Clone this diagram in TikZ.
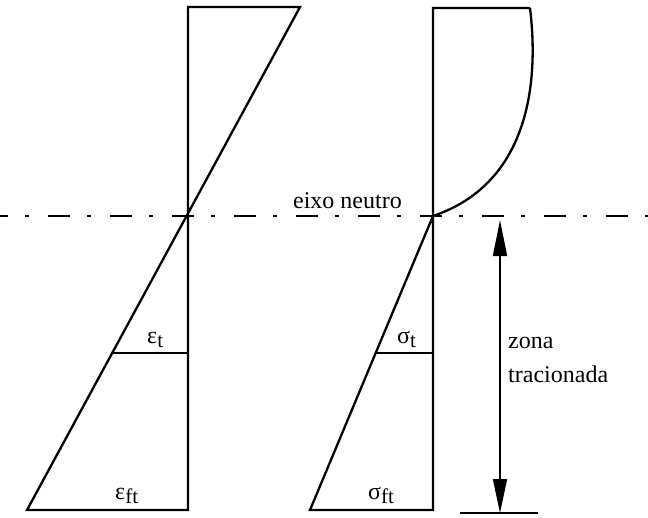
\documentclass[tikz,border=0pt]{standalone}
\usepackage{fontspec}
\setmainfont{Liberation Serif}
\usepackage{tikz}
\usetikzlibrary{arrows.meta,positioning}
\newcommand{\lowidx}[1]{\raisebox{-4pt}{\fontsize{21}{21}\selectfont #1}}

\begin{document}
\begin{tikzpicture}[
    x=1pt, y=-1pt,
    every node/.style={font=\fontsize{24}{28}\selectfont, inner sep=0pt},
    profile/.style={line width=2.3pt, line join=miter},
    level/.style={line width=1.6pt},
    neutral/.style={line width=2pt, dash pattern=on 22pt off 17pt on 4pt off 19pt, dash phase=14pt},
    zone/.style={line width=1.6pt,
                 {Triangle[length=36pt, width=14pt]}-{Triangle[length=34pt, width=14pt]}},
]
    \useasboundingbox (0,0) rectangle (648,517);

    \coordinate (eTop) at (188,7);
    \coordinate (eTopR) at (300,7);
    \coordinate (eBot) at (188,510);
    \coordinate (eBotL) at (27,510);
    \coordinate (eMid) at (188,353);
    \coordinate (eMidL) at (113,353);
    \draw[profile] (eBot) -- (eTop) -- (eTopR) -- (eBotL) -- cycle;
    \draw[level] (eMidL) -- (eMid);

    \coordinate (sTop) at (433,8);
    \coordinate (sTopR) at (530,8);
    \coordinate (sNA) at (433,216);
    \coordinate (sBot) at (433,510);
    \coordinate (sBotL) at (310,510);
    \coordinate (sMid) at (433,353);
    \coordinate (sMidL) at (376,353);
    \draw[profile] (sTopR) -- (sTop) -- (sBot) -- (sBotL) -- (sNA)
        .. controls (525,185) and (540,90) .. (sTopR);
    \draw[level] (sMidL) -- (sMid);

    \coordinate (naL) at (0,216);
    \coordinate (naR) at (648,216);
    \draw[neutral] (naL) -- (naR);
    \node[anchor=base east] (naLabel) at (402,208) {eixo neutro};

    \coordinate (zTop) at (500,220);
    \coordinate (zBot) at (500,513);
    \coordinate (tickL) at (460,513);
    \coordinate (tickR) at (538,513);
    \draw[zone] (zTop) -- (zBot);
    \draw[level] (tickL) -- (tickR);
    \node[anchor=base west] (zona) at (508,348) {zona};
    \node[anchor=base west] (tracionada) at (508,382) {tracionada};

    \node[anchor=base west] (epsT) at (147,343) {ε\lowidx{t}};
    \node[anchor=base west] (epsFt) at (115,499) {ε\lowidx{ft}};
    \node[anchor=base west] (sigT) at (397,343) {σ\lowidx{t}};
    \node[anchor=base west] (sigFt) at (368,499) {σ\lowidx{ft}};
\end{tikzpicture}
\end{document}
